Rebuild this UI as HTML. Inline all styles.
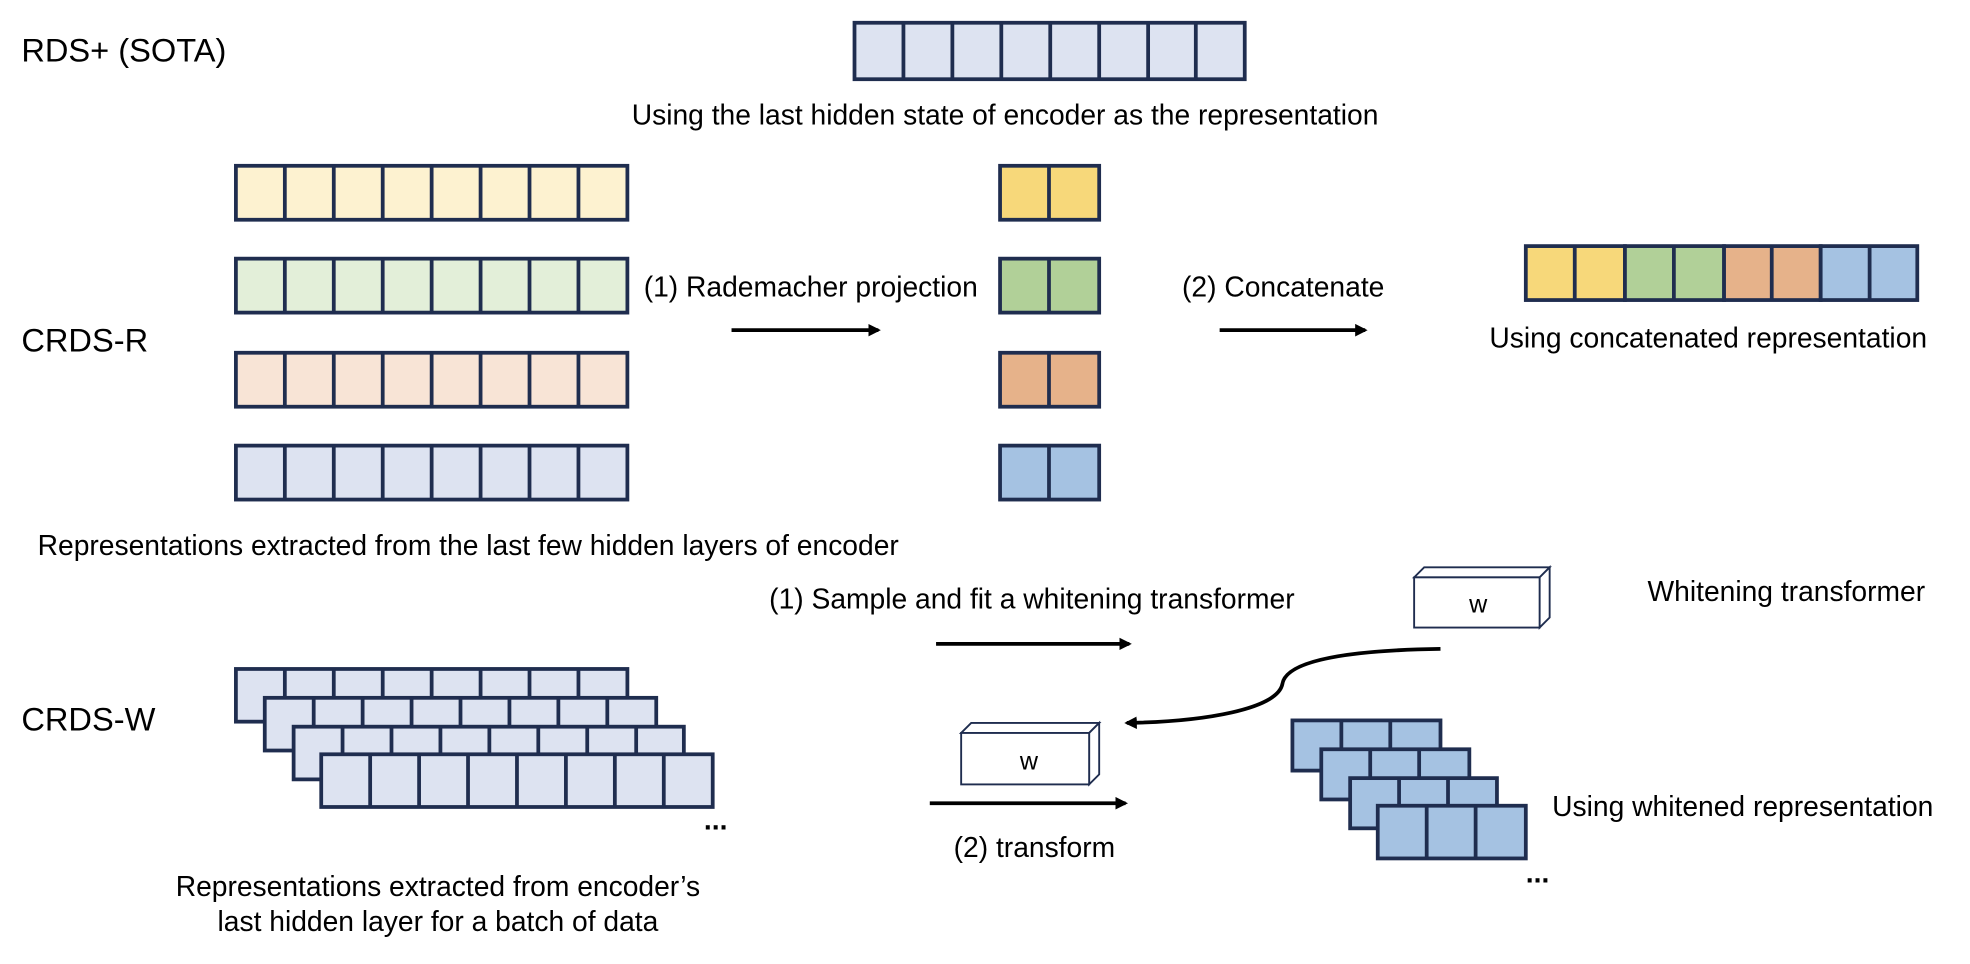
<!DOCTYPE html>
<html><head><meta charset="utf-8"><style>
html,body{margin:0;padding:0;background:#fff;}
svg{display:block;}
text{font-family:"Liberation Sans",Arial,sans-serif;font-size:22.5px;fill:#000;}
</style></head><body>
<svg width="1970" height="964" viewBox="0 0 1570 768" xmlns="http://www.w3.org/2000/svg">
<defs>
<marker id="ah" markerWidth="10" markerHeight="10" refX="8" refY="5" orient="auto" markerUnits="userSpaceOnUse">
<path d="M0,0 L10,5 L0,10 Z" fill="#000"/></marker>
</defs>
<text x="17" y="49" style="font-size:26px">RDS+ (SOTA)</text>
<g stroke="#1f2d4f" stroke-width="3" fill="#dde3f1">
<rect x="681" y="18" width="311" height="45"/>
<path d="M720,18V63M759,18V63M798,18V63M837,18V63M876,18V63M915,18V63M953,18V63"/>
</g>
<text x="801" y="99" text-anchor="middle">Using the last hidden state of encoder as the representation</text>

<g stroke="#1f2d4f" stroke-width="3">
<rect x="188" y="132" width="312" height="43" fill="#fdf2d0"/>
<rect x="188" y="206" width="312" height="43" fill="#e3efd9"/>
<rect x="188" y="281" width="312" height="43" fill="#f8e4d6"/>
<rect x="188" y="355" width="312" height="43" fill="#dde3f1"/>
<path fill="none" d="M227,132V175M266,132V175M305,132V175M344,132V175M383,132V175M422,132V175M461,132V175
M227,206V249M266,206V249M305,206V249M344,206V249M383,206V249M422,206V249M461,206V249
M227,281V324M266,281V324M305,281V324M344,281V324M383,281V324M422,281V324M461,281V324
M227,355V398M266,355V398M305,355V398M344,355V398M383,355V398M422,355V398M461,355V398"/>
<rect x="797" y="132" width="79" height="43" fill="#f7d87a"/>
<rect x="797" y="206" width="79" height="43" fill="#b1d098"/>
<rect x="797" y="281" width="79" height="43" fill="#e6b28a"/>
<rect x="797" y="355" width="79" height="43" fill="#a5c2e2"/>
<path fill="none" d="M836,132V175M836,206V249M836,281V324M836,355V398"/>
<rect x="1216" y="196" width="79" height="43" fill="#f7d87a"/>
<rect x="1295" y="196" width="79" height="43" fill="#b1d098"/>
<rect x="1374" y="196" width="77" height="43" fill="#e6b28a"/>
<rect x="1451" y="196" width="77" height="43" fill="#a5c2e2"/>
<path fill="none" d="M1255,196V239M1334,196V239M1412,196V239M1490,196V239"/>
</g>
<text x="513" y="236">(1) Rademacher projection</text>
<line x1="583" y1="263" x2="700" y2="263" stroke="#000" stroke-width="3" marker-end="url(#ah)"/>
<text x="942" y="236">(2) Concatenate</text>
<line x1="972" y1="263" x2="1088" y2="263" stroke="#000" stroke-width="3" marker-end="url(#ah)"/>
<text x="1187" y="277">Using concatenated representation</text>
<text x="17" y="280" style="font-size:26px">CRDS-R</text>
<text x="30" y="442">Representations extracted from the last few hidden layers of encoder</text>

<text x="613" y="485">(1) Sample and fit a whitening transformer</text>
<line x1="746" y1="513" x2="900" y2="513" stroke="#000" stroke-width="3" marker-end="url(#ah)"/>
<g stroke="#1f2d4f" stroke-width="1.5" fill="#fff">
<path d="M1127,460 L1135,452 L1235,452 L1227,460 Z"/>
<path d="M1227,460 L1235,452 L1235,492 L1227,500 Z"/>
<rect x="1127" y="460" width="100" height="40"/>
<path d="M766,584 L774,576 L876,576 L868,584 Z"/>
<path d="M868,584 L876,576 L876,617 L868,625 Z"/>
<rect x="766" y="584" width="102" height="41"/>
</g>
<text x="1178" y="488" text-anchor="middle" style="font-size:20px">w</text>
<text x="820" y="613" text-anchor="middle" style="font-size:20px">w</text>
<text x="1313" y="479">Whitening transformer</text>
<path d="M1148,517 C1080,518 1025,525 1022,545 C1018,565 960,575 898,576" fill="none" stroke="#000" stroke-width="3" marker-end="url(#ah)"/>
<text x="17" y="582" style="font-size:26px">CRDS-W</text>
<g stroke="#1f2d4f" stroke-width="3" fill="#dde3f1">
<rect x="188" y="533" width="312" height="42"/>
<path d="M227,533V556M266,533V556M305,533V556M344,533V556M383,533V556M422,533V556M461,533V556"/>
<rect x="211" y="556" width="312" height="42"/>
<path d="M250,556V579M289,556V579M328,556V579M367,556V579M406,556V579M445,556V579M484,556V579"/>
<rect x="234" y="579" width="311" height="42"/>
<path d="M273,579V601M312,579V601M351,579V601M390,579V601M429,579V601M468,579V601M507,579V601"/>
<rect x="256" y="601" width="312" height="42"/>
<path d="M295,601V643M334,601V643M373,601V643M412,601V643M451,601V643M490,601V643M529,601V643"/>
</g>
<text x="561" y="661" style="font-weight:bold">...</text>
<line x1="741" y1="640" x2="897" y2="640" stroke="#000" stroke-width="3" marker-end="url(#ah)"/>
<text x="760" y="683">(2) transform</text>
<g stroke="#1f2d4f" stroke-width="3" fill="#a5c2e2">
<rect x="1030" y="574" width="118" height="40"/>
<path d="M1069,574V597M1108,574V597"/>
<rect x="1053" y="597" width="118" height="40"/>
<path d="M1092,597V620M1131,597V620"/>
<rect x="1076" y="620" width="117" height="40"/>
<path d="M1115,620V642M1154,620V642"/>
<rect x="1098" y="642" width="118" height="42"/>
<path d="M1137,642V684M1176,642V684"/>
</g>
<text x="1216" y="703" style="font-weight:bold">...</text>
<text x="1237" y="650">Using whitened representation</text>
<text x="349" y="714" text-anchor="middle">Representations extracted from encoder’s</text>
<text x="349" y="742" text-anchor="middle">last hidden layer for a batch of data</text>
</svg>
</body></html>
